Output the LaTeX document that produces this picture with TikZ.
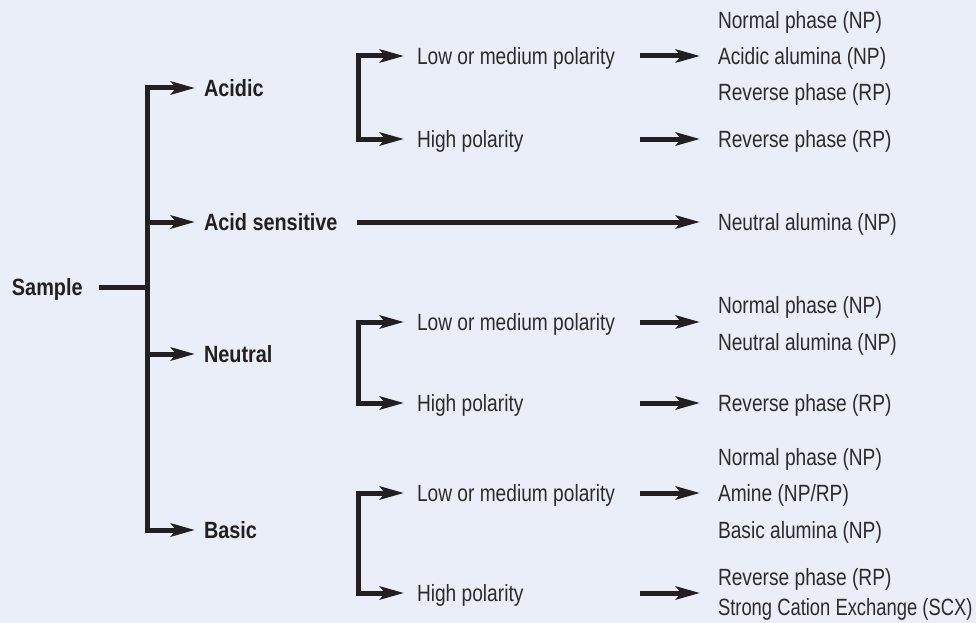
\documentclass[tikz,border=0pt]{standalone}
\usepackage{fontspec}
\usepackage{graphicx}
\setmainfont{Liberation Sans}[FakeStretch=0.815, BoldFeatures={FakeStretch=0.845}]
\usetikzlibrary{arrows.meta}
\definecolor{bgblue}{RGB}{233,238,248}
\definecolor{ink}{RGB}{35,31,32}
\definecolor{txt}{RGB}{45,43,44}
\tikzset{
  lbl/.style={anchor=west, inner sep=0pt, outer sep=0pt, text height=16.8pt, text depth=0pt,
              font=\fontsize{23.5}{27}\selectfont, text=txt},
  cat/.style={lbl, font=\fontsize{23.5}{27}\selectfont\bfseries, text=ink},
  bar/.style={draw=ink, line width=5pt, line join=miter},
  arr/.style={bar, -{Stealth[length=24pt, width=13pt, inset=5pt]}},
}
\begin{document}
\begin{tikzpicture}[x=1pt, y=-1pt]
\fill[bgblue] (0,0) rectangle (976,623);
\useasboundingbox (0,0) rectangle (976,623);

% root and first level
\node[cat] (sample) at (12,287) {Sample};
\node[cat] (acidic) at (204,88) {Acidic};
\node[cat] (acidsens) at (204,222) {Acid sensitive};
\node[cat] (neutral) at (204,354) {Neutral};
\node[cat] (basic) at (204,530) {Basic};

\coordinate (s0) at (99,287);
\coordinate (trunk) at (147.5,287);
\draw[bar] (s0) -- (trunk);
\foreach \n in {acidic,acidsens,neutral,basic}
  \draw[arr, shorten >=9pt] (trunk) |- (\n.west);

% polarity levels
\node[lbl] (lowA)  at (417,56)  {Low or medium polarity};
\node[lbl] (highA) at (417,139) {High polarity};
\node[lbl] (lowN)  at (417,322) {Low or medium polarity};
\node[lbl] (highN) at (417,403) {High polarity};
\node[lbl] (lowB)  at (417,493) {Low or medium polarity};
\node[lbl] (highB) at (417,593) {High polarity};

\coordinate (brA) at (358,97);
\coordinate (brN) at (358,362);
\coordinate (brB) at (358,543);
\foreach \b/\l/\h in {brA/lowA/highA, brN/lowN/highN, brB/lowB/highB}{
  \draw[arr, shorten >=13pt] (\b) |- (\l.west);
  \draw[arr, shorten >=13pt] (\b) |- (\h.west);
}

% separation modes
\node[lbl] (npA)   at (718,20)  {Normal phase (NP)};
\node[lbl] (acalA) at (718,56)  {Acidic alumina (NP)};
\node[lbl] (rpA)   at (718,92)  {Reverse phase (RP)};
\node[lbl] (rpAh)  at (718,139) {Reverse phase (RP)};
\node[lbl] (nalS)  at (718,222) {Neutral alumina (NP)};
\node[lbl] (npN)   at (718,305) {Normal phase (NP)};
\node[lbl] (nalN)  at (718,342) {Neutral alumina (NP)};
\node[lbl] (rpNh)  at (718,403) {Reverse phase (RP)};
\node[lbl] (npB)   at (718,457) {Normal phase (NP)};
\node[lbl] (amB)   at (718,493) {Amine (NP/RP)};
\node[lbl] (balB)  at (718,530) {Basic alumina (NP)};
\node[lbl] (rpBh)  at (718,577) {Reverse phase (RP)};
\node[lbl] (scxB)  at (718,607) {\scalebox{0.96}[1]{Strong Cation Exchange (SCX)}};

\coordinate (sA)  at (357,222);
\coordinate (pA1) at (640,56);
\coordinate (pA2) at (640,139);
\coordinate (pN1) at (640,322);
\coordinate (pN2) at (640,403);
\coordinate (pB1) at (640,493);
\coordinate (pB2) at (640,593);
\coordinate (tB2) at (718,593);

\draw[arr, shorten >=18pt] (sA)  -- (nalS.west);
\draw[arr, shorten >=18pt] (pA1) -- (acalA.west);
\draw[arr, shorten >=18pt] (pA2) -- (rpAh.west);
\draw[arr, shorten >=18pt] (pN1) -- (pN1 -| nalS.west);
\draw[arr, shorten >=18pt] (pN2) -- (rpNh.west);
\draw[arr, shorten >=18pt] (pB1) -- (amB.west);
\draw[arr, shorten >=18pt] (pB2) -- (tB2);
\end{tikzpicture}
\end{document}
